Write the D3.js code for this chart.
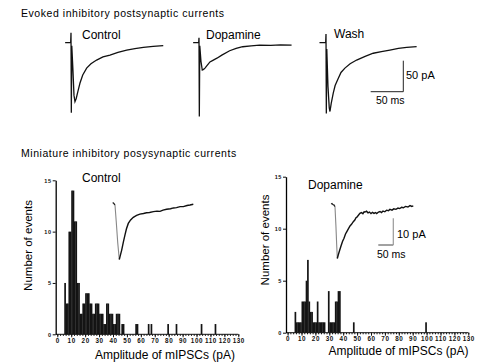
<!DOCTYPE html>
<html>
<head>
<meta charset="utf-8">
<script src="https://cdn.jsdelivr.net/npm/d3@7"></script>
<style>
  body { margin: 0; background: #fff; }
  svg { display: block; font-family: "Liberation Sans", Arial, Helvetica, sans-serif; }
</style>
</head>
<body>
<div id="fig"></div>
<script>
// evoked IPSCs, [time from stimulus (ms), current (pA)] - stimulus artifact included
var evokedControl = [[-9,0],[-0.5,0],[0,16],[0.5,-113],[1.2,-5],[3,-45],[4.6,-85],[6.1,-95],[8,-90],[10.7,-78],[13.8,-65],[18,-52],[24,-41],[30.6,-34],[39.3,-28],[49,-23],[59.8,-20],[72,-15.5],[85.4,-11.8],[98,-9.5],[111,-7.5],[126,-5.8],[141.5,-4.8]];
var evokedDopamine = [[-9,0],[-0.5,0],[0,8],[0.5,-119],[1.2,-5],[3,-30],[5,-44],[7,-43],[9.2,-41],[12.2,-37],[16.8,-31],[22,-28],[27.5,-25],[35,-20],[47,-13],[57,-9],[67,-6.5],[80,-5],[93,-4],[110,-4.2],[125,-3.5],[142,-4]];
var evokedWash = [[-10,0],[-0.5,0],[0,14],[0.5,-114],[1.2,-10],[3,-70],[5,-105],[6.1,-111],[8,-98],[11.2,-81],[14,-69],[18.9,-57.5],[23,-48],[29,-41],[37,-34],[47,-28],[60,-22],[72.5,-17],[85,-14.5],[98,-11.8],[111,-9.2],[123.8,-7.5],[139,-6.4]];

// averaged mIPSCs, [time from onset (ms), current (pA)]
var miniControl = [[-7.7,0.9],[-4,0.6],[0,0],[4,-6],[9,-14],[14.3,-20.4],[18,-18.8],[22.3,-16.9],[28,-13.8],[33.3,-11.2],[38,-9],[44.3,-6.9],[52,-5.6],[61,-4.6],[72,-3.9],[83,-3.4],[95,-3.2],[105,-2.9],[115,-2.8],[128,-2.5],[140,-2.3],[150,-2.4],[160,-1.9],[172,-1.6],[185,-1.4],[195,-1.1],[205,-1.0],[217,-0.6],[228,-0.6],[240,-0.2],[250,0],[261,0.3]];
var miniDopamine = [[-13,1.0],[-10,1.2],[-7,0.8],[-3,0.6],[0,0],[3,-7],[5.5,-14],[7.7,-19.4],[11,-18],[15,-16.5],[20,-14.7],[25,-13],[30,-11.8],[35,-10.2],[39,-9.4],[44,-8.4],[50,-7.2],[55,-6.6],[61,-5.6],[66,-5.0],[70,-4.1],[73,-3.9],[78,-3.2],[83,-2.5],[88,-2.2],[93,-2.6],[97,-1.9],[100,-2.0],[105,-1.7],[110,-2.3],[115,-2.0],[120,-2.6],[125,-2.1],[130,-2.5],[135,-2.2],[139,-2.6],[145,-2.0],[150,-1.8],[155,-2.2],[160,-1.6],[166,-1.9],[172,-1.3],[178,-1.5],[183,-1.0],[190,-1.3],[196,-0.8],[203,-1.0],[210,-0.5],[216,-0.7],[222,-0.2],[228,-0.4],[235,0.1],[243,-0.1],[250,0.4],[256,0.1],[261,0.3]];

// amplitude histograms, 1 pA bins: left edge (pA) and number of events
var ctrlBins   = [5,6,7,8,9,10,11,12,13,14,15,16,17,18,19,20,21,22,23,24,25,26,27,28,29,30,31,32,33,34,35,36,37,38,39,40,41,42,43,44,46,47,56,57,65,67,79,85,103,113];
var ctrlCounts = [5,3,3,10,10,14,14,11,11,5,5,2,2,3,3,4,4,4,3,3,2,2,3,3,3,2,2,2,1,1,3,3,2,2,2,1,1,2,2,2,1,1,1,1,1,1,1,1,1,1];
var daBins   = [5,6,7,8,9,10,11,12,13,14,15,16,17,18,19,20,21,22,23,24,25,26,29,30,31,32,33,34,35,36,37,47,99];
var daCounts = [2,1,1,1,1,3,3,3,5,7,3,2,2,1,1,1,3,1,1,1,1,1,4,1,1,1,1,3,3,4,4,1,1];

var ampTicks   = [0,10,20,30,40,50,60,70,80,90,100,110,120,130];
var countTicks = [0,5,10,15];

var W = 500, H = 364;
var svg = d3.select("#fig").append("svg")
    .attr("width", W)
    .attr("height", H);

//////////////////////////////////////////////
// Evoked currents (top row) ////////////////
//////////////////////////////////////////////
svg.append("text")
    .attr("x", 21).attr("y", 17)
    .style("font-size", "10.5px").style("letter-spacing", "0.55px")
    .text("Evoked inhibitory postsynaptic currents");

// 50 ms = 32.6 px, 50 pA = 31 px
var evBase = 42.7;
var evokedPanels = [
  { name: "Control",  data: evokedControl,  x0: 71,  label: [82, 39] },
  { name: "Dopamine", data: evokedDopamine, x0: 199, label: [206, 38.5] },
  { name: "Wash",     data: evokedWash,     x0: 326, label: [334, 38.3] }
];

evokedPanels.forEach(function (p) {
  var x = d3.scaleLinear().domain([0, 50]).range([p.x0, p.x0 + 32.6]);
  var y = d3.scaleLinear().domain([0, -50]).range([evBase, evBase + 31]);
  svg.append("path")
      .datum(p.data)
      .attr("d", d3.line().x(function (d) { return x(d[0]); }).y(function (d) { return y(d[1]); }))
      .attr("fill", "none")
      .attr("stroke", "#111")
      .attr("stroke-width", 1.3);
  svg.append("text")
      .attr("x", p.label[0]).attr("y", p.label[1])
      .style("font-size", "12px")
      .text(p.name);
});

// scale bar for the evoked traces
(function () {
  var x = d3.scaleLinear().domain([0, 50]).range([370.7, 370.7 + 32.6]);
  var y = d3.scaleLinear().domain([0, 50]).range([91.7, 91.7 - 31]);
  svg.append("path")
      .attr("d", "M" + x(0) + "," + y(0) + "H" + x(50) + "V" + y(50))
      .attr("fill", "none").attr("stroke", "#222").attr("stroke-width", 1);
  svg.append("text").attr("x", 406).attr("y", 78.5)
      .style("font-size", "11px").text("50 pA");
  svg.append("text").attr("x", 376).attr("y", 104)
      .style("font-size", "10.5px").text("50 ms");
})();

//////////////////////////////////////////////
// Miniature currents (bottom row) //////////
//////////////////////////////////////////////
svg.append("text")
    .attr("x", 21).attr("y", 157)
    .style("font-size", "10.5px").style("letter-spacing", "0.55px")
    .text("Miniature inhibitory posysynaptic currents");

function drawHist(o) {
  var g = svg.append("g");
  var x = d3.scaleLinear().domain([0, 130]).range([o.left, o.right]);
  var y = d3.scaleLinear().domain([0, 15]).range([o.bottom, o.top]);
  var axX = o.left - 1.6;

  var bars = o.bins.map(function (b, i) { return { bin: b, n: o.counts[i] }; });
  g.selectAll("rect")
    .data(bars)
    .enter()
    .append("rect")
    .attr("x", function (d) { return x(d.bin); })
    .attr("width", function (d) { return x(d.bin + 1) - x(d.bin) + 0.3; })
    .attr("y", function (d) { return y(d.n); })
    .attr("height", function (d) { return y(0) - y(d.n); })
    .attr("fill", "#141414");

  // x axis, major + minor ticks
  var xAxisEl = g.append("g")
    .attr("transform", "translate(0," + y(0) + ")")
    .call(d3.axisBottom(x).tickValues(ampTicks).tickSize(3).tickSizeOuter(0).tickPadding(1));
  g.append("g")
    .attr("transform", "translate(0," + y(0) + ")")
    .call(d3.axisBottom(x).tickValues(d3.range(0, 131, 2)).tickSize(1.6).tickFormat(""))
    .select(".domain").remove();
  xAxisEl.select(".domain").remove();
  g.append("line")
    .attr("x1", axX).attr("x2", x(130))
    .attr("y1", y(0)).attr("y2", y(0))
    .attr("stroke", "#111").attr("stroke-width", 1);
  xAxisEl.selectAll("text")
    .style("font-size", "6.3px").style("font-weight", "bold").style("letter-spacing", "0.6px")
    .attr("fill", "#111");

  // y axis
  var yAxisEl = g.append("g")
    .attr("transform", "translate(" + axX + ",0)")
    .call(d3.axisLeft(y).tickValues(countTicks).tickSize(3).tickSizeOuter(0).tickPadding(1));
  yAxisEl.select(".domain").attr("stroke-width", 1.3);
  yAxisEl.selectAll("text")
    .style("font-size", "5.5px").style("font-weight", "bold").style("letter-spacing", "0.6px")
    .attr("fill", "#111");

  g.selectAll(".tick line").attr("stroke", "#111");

  g.append("text")
    .attr("transform", "translate(" + o.ylab[0] + "," + o.ylab[1] + ") rotate(-90)")
    .attr("text-anchor", "middle")
    .style("font-size", "11.5px")
    .text("Number of events");
  g.append("text")
    .attr("x", o.xlab[0]).attr("y", o.xlab[1])
    .attr("text-anchor", "middle")
    .style("font-size", "12px")
    .text("Amplitude of mIPSCs (pA)");
  g.append("text")
    .attr("x", o.title[0]).attr("y", o.title[1])
    .style("font-size", "12px")
    .text(o.name);
}

drawHist({ name: "Control", bins: ctrlBins, counts: ctrlCounts,
           left: 57.3, right: 238.3, top: 180.3, bottom: 334.3,
           ylab: [31.7, 245.5], xlab: [165, 359], title: [82, 182] });
drawHist({ name: "Dopamine", bins: daBins, counts: daCounts,
           left: 287.6, right: 468.3, top: 176.7, bottom: 332.7,
           ylab: [269, 240], xlab: [398.5, 355], title: [308, 189] });

// inset mIPSC averages: 50 ms = 15 px, 10 pA = 26.7 px
function drawMini(data, x0, y0) {
  var x = d3.scaleLinear().domain([0, 50]).range([x0, x0 + 15]);
  var y = d3.scaleLinear().domain([0, -10]).range([y0, y0 + 26.7]);
  var line = d3.line()
      .x(function (d) { return x(d[0]); })
      .y(function (d) { return y(d[1]); });
  var iPeak = d3.minIndex(data, function (d) { return d[1]; });
  var iStart = data.findIndex(function (d) { return d[0] >= 0; });
  svg.append("path")
      .datum(data.slice(0, iStart + 1))
      .attr("d", line).attr("fill", "none").attr("stroke", "#222").attr("stroke-width", 1.3);
  // fast falling phase looks faint in the original
  svg.append("path")
      .datum(data.slice(iStart, iPeak + 1))
      .attr("d", line).attr("fill", "none").attr("stroke", "#888").attr("stroke-width", 1.1);
  svg.append("path")
      .datum(data.slice(iPeak))
      .attr("d", line).attr("fill", "none").attr("stroke", "#111").attr("stroke-width", 1.4);
}
drawMini(miniControl, 115, 205);
drawMini(miniDopamine, 335, 206.7);

// inset scale bar
(function () {
  var x = d3.scaleLinear().domain([0, 50]).range([378.3, 378.3 + 15]);
  var y = d3.scaleLinear().domain([0, 10]).range([245, 245 - 26.7]);
  svg.append("line")
      .attr("x1", x(0)).attr("x2", x(50)).attr("y1", y(0)).attr("y2", y(0))
      .attr("stroke", "#444").attr("stroke-width", 1);
  svg.append("line")
      .attr("x1", x(50)).attr("x2", x(50)).attr("y1", y(0)).attr("y2", y(10))
      .attr("stroke", "#999").attr("stroke-width", 1.2);
  svg.append("text").attr("x", 397).attr("y", 237.5)
      .style("font-size", "11px").text("10 pA");
  svg.append("text").attr("x", 377).attr("y", 258)
      .style("font-size", "10.5px").text("50 ms");
})();
</script>
</body>
</html>
